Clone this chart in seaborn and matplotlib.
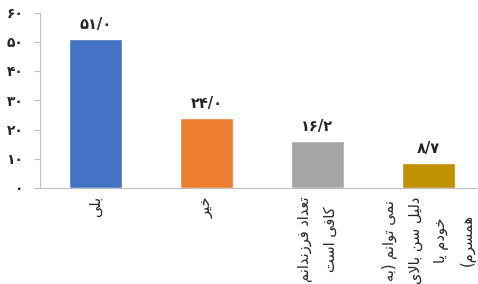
import matplotlib
matplotlib.use('Agg')
import matplotlib.pyplot as plt
import seaborn as sns
import pandas as pd

# survey answers (Persian), values in percent
categories = ['بلی', 'خیر', 'تعداد فرزندانم\nکافی است', 'نمی توانم (به\nدلیل سن بالای\nخودم یا\nهمسرم)']
values = [51.0, 24.0, 16.2, 8.7]
colors = ['#4472C4', '#ED7D31', '#A5A5A5', '#BF9000']
yticks = [0, 10, 20, 30, 40, 50, 60]

# minimal persian shaping, matplotlib does no arabic layout on its own
FORMS = {
    'ب': '\uFE8F\uFE90\uFE91\uFE92', 'ت': '\uFE95\uFE96\uFE97\uFE98',
    'خ': '\uFEA5\uFEA6\uFEA7\uFEA8', 'د': '\uFEA9\uFEAA', 'ر': '\uFEAD\uFEAE',
    'ز': '\uFEAF\uFEB0', 'س': '\uFEB1\uFEB2\uFEB3\uFEB4',
    'ع': '\uFEC9\uFECA\uFECB\uFECC', 'ف': '\uFED1\uFED2\uFED3\uFED4',
    'ک': '\uFB8E\uFB8F\uFB90\uFB91', 'ل': '\uFEDD\uFEDE\uFEDF\uFEE0',
    'م': '\uFEE1\uFEE2\uFEE3\uFEE4', 'ن': '\uFEE5\uFEE6\uFEE7\uFEE8',
    'ه': '\uFEE9\uFEEA\uFEEB\uFEEC', 'و': '\uFEED\uFEEE', 'ا': '\uFE8D\uFE8E',
    'ی': '\uFBFC\uFBFD\uFBFE\uFBFF',
}


def shape_line(s):
    out = []
    i = 0
    while i < len(s):
        c = s[i]
        prev = s[i - 1] if i > 0 else ''
        nxt = s[i + 1] if i + 1 < len(s) else ''
        join_prev = prev in FORMS and len(FORMS[prev]) == 4 and c in FORMS
        if c == 'ل' and nxt == 'ا':
            out.append('\uFEFC' if join_prev else '\uFEFB')
            i += 2
            continue
        if c in FORMS:
            f = FORMS[c]
            join_next = len(f) == 4 and nxt in FORMS
            if join_prev and join_next:
                out.append(f[3])
            elif join_prev:
                out.append(f[1])
            elif join_next:
                out.append(f[2])
            else:
                out.append(f[0])
        else:
            out.append(c)
        i += 1
    vis = ''.join(out)[::-1]
    return vis.replace('(', '\0').replace(')', '(').replace('\0', ')')


def fa(s):
    return '\n'.join(shape_line(l) for l in s.split('\n'))


def fa_num(v, fmt='{:.1f}'):
    s = fmt.format(v).replace('.', '/')
    return ''.join(chr(0x06F0 + int(ch)) if ch.isdigit() else ch for ch in s)


df = pd.DataFrame({'cat': [fa(c) for c in categories], 'val': values})

sns.set_style('white')
plt.rcParams['font.family'] = ['DejaVu Sans']

fig = plt.figure(figsize=(4.78, 2.84), dpi=100)
ax = fig.add_axes([40 / 478, 96 / 284, 444 / 478, 175.5 / 284])

sns.barplot(data=df, x='cat', y='val', hue='cat', palette=colors, width=0.48,
            legend=False, ax=ax, saturation=1)

ax.set_ylim(0, 60)
ax.set_xlim(-0.5, 3.5)
ax.set_yticks(yticks, [fa_num(t, '{:.0f}') for t in yticks], fontweight='bold', fontsize=10)
ax.set_xticks([-0.5, 0.5, 1.5, 2.5, 3.5], [])
ax.set_xticks(range(len(categories)), df['cat'], minor=True)
ax.set_xlabel('')
ax.set_ylabel('')

for lab in ax.get_xticklabels(minor=True):
    lab.set_rotation(90)
    lab.set_multialignment('center')
    lab.set_linespacing(1.85)
    lab.set_fontsize(10.5)

ax.tick_params(axis='x', which='major', length=4, color='#BFBFBF', width=0.8)
ax.tick_params(axis='x', which='minor', length=0, pad=6)
ax.tick_params(axis='y', length=4, color='#BFBFBF', width=0.8, pad=8, left=True)

for side in ['top', 'right']:
    ax.spines[side].set_visible(False)
for side in ['left', 'bottom']:
    ax.spines[side].set_color('#BFBFBF')
    ax.spines[side].set_linewidth(0.8)

for cont, v in zip(ax.containers, values):
    ax.bar_label(cont, labels=[fa_num(v)], padding=5, fontweight='bold', fontsize=10.5)

fig.savefig('out.png', dpi=100)
